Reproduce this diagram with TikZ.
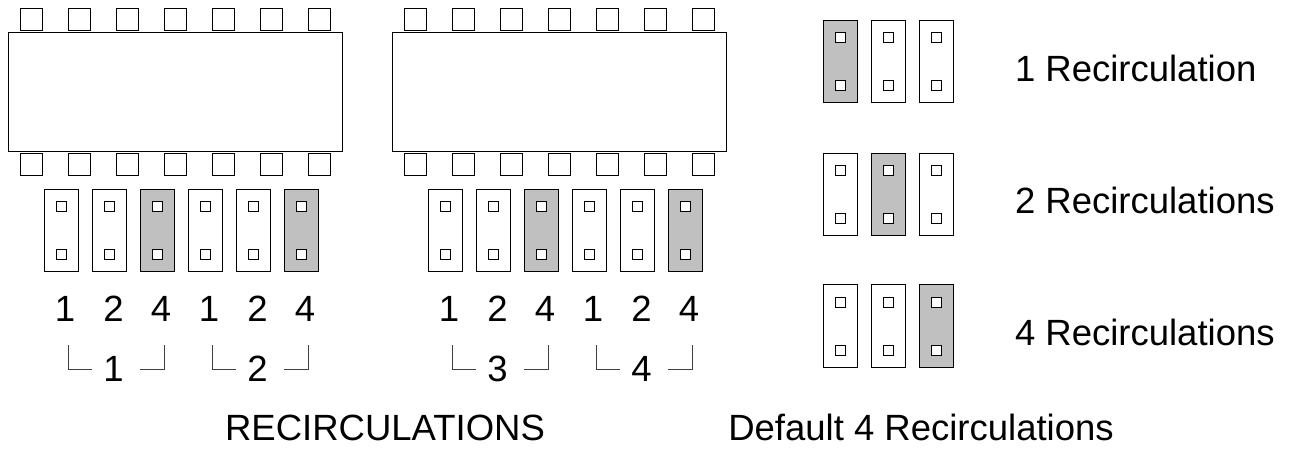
\documentclass[tikz,border=0pt]{standalone}
\usepackage{fontspec}
\setmainfont{Liberation Sans}
\definecolor{jumpergrey}{RGB}{192,192,192}
\tikzset{
  x=1pt,y=-1pt,
  pic1/.style={draw=black,fill=white,line width=1pt,inner sep=0pt,outer sep=0pt,minimum size=0pt},
  chipbody/.style={pic1,minimum width=334pt,minimum height=119pt},
  pinbox/.style={pic1,minimum width=22pt,minimum height=22pt},
  jumper/.style={pic1,minimum width=34pt,minimum height=82pt},
  jumperon/.style={jumper,fill=jumpergrey},
  hole/.style={pic1,minimum width=10pt,minimum height=10pt},
  lab/.style={inner sep=0pt,outer sep=0pt,font=\fontsize{36.5}{42}\selectfont,anchor=base},
  labl/.style={lab,anchor=base west},
  brk/.style={line width=1pt,draw=black!75}
}
% #1 name, #2 x centre, #3 y centre, #4 style
\newcommand{\jumperblock}[4]{%
  \node[#4] (#1) at (#2,#3) {};
  \node[hole] (#1t) at (#2,#3-24) {};
  \node[hole] (#1b) at (#2,#3+24) {};
}
\begin{document}
\begin{tikzpicture}
\useasboundingbox (0,0) rectangle (1291,449);
% chips
\foreach \c/\cx in {a/175.4,b/559.4}{
  \node[chipbody] (chip\c) at (\cx,92) {};
  \foreach \i in {0,...,6}{
    \node[pinbox] (pt\c\i) at ({\cx-144+48*\i},20) {};
    \node[pinbox] (pb\c\i) at ({\cx-144+48*\i},164.5) {};
  }
}
% jumpers under the chips
\foreach \c/\cx in {a/61.3,b/445.3}{
  \foreach \i/\st in {0/jumper,1/jumper,2/jumperon,3/jumper,4/jumper,5/jumperon}{
    \jumperblock{j\c\i}{\cx+48*\i}{230.3}{\st}
  }
}
% digits
\foreach \cx/\i/\t in {65/0/1,113.5/1/2,161/2/4,209/3/1,257.5/4/2,305/5/4,449/6/1,497.5/7/2,545/8/4,593/9/1,641.5/10/2,689/11/4}{
  \node[lab] (d\i) at (\cx,321) {\t};
}
% brackets
\foreach \bx/\t/\n in {68/1/a,212/2/b,452/3/c,596/4/d}{
  \node[lab] (g\n) at ({\bx+45.5},381) {\t};
  \draw[brk] (\bx,345) -- (\bx,369) -- ({\bx+24},369);
  \draw[brk] ({\bx+72},369) -- ({\bx+96},369) -- ({\bx+96},345);
}
% right legend
\foreach \r/\cy/\g in {1/61.8/0,2/194.5/1,3/326/2}{
  \foreach \i in {0,1,2}{
    \ifnum\i=\g\relax
      \jumperblock{k\r\i}{840.8+48*\i}{\cy}{jumperon}
    \else
      \jumperblock{k\r\i}{840.8+48*\i}{\cy}{jumper}
    \fi
  }
}
\node[labl] (t1) at (1015,82) {1 Recirculation};
\node[labl] (t2) at (1015,213.5) {2 Recirculations};
\node[labl] (t3) at (1015,345.5) {4 Recirculations};
\node[lab] (t4) at (385,440) {RECIRCULATIONS};
\node[lab] (t5) at (921,440) {Default 4 Recirculations};
\end{tikzpicture}
\end{document}
